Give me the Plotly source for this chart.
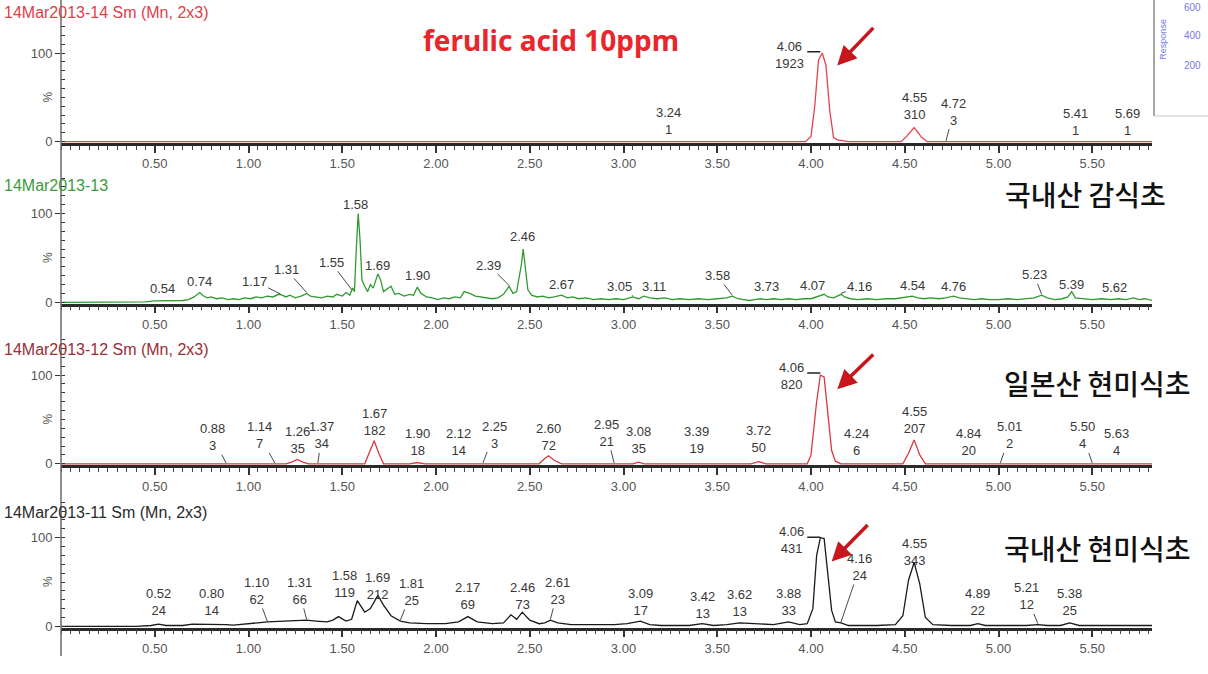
import numpy as np
import plotly.graph_objects as go

W, H = 1208, 674

# ---------------- chromatogram traces (time in min, intensity in %) ----------------
# ferulic acid standard 10 ppm
std_t = [0.00, 3.97, 4.00, 4.02, 4.04, 4.06, 4.08, 4.10, 4.12, 4.14, 4.20,
         4.48, 4.51, 4.55, 4.59, 4.62, 5.82]
std_i = [0, 0, 6, 40, 92, 100, 86, 35, 5, 2, 0,
         0, 6, 16, 5, 0, 0]

# 국내산 감식초 (persimmon vinegar)
gam_t = [0.00, 0.40, 0.45, 0.50, 0.55, 0.60, 0.65, 0.68, 0.71, 0.74, 0.76, 0.78,
         0.80, 0.83, 0.86, 0.89, 0.92, 0.95, 0.98, 1.01, 1.04, 1.07, 1.10, 1.13,
         1.16, 1.18, 1.20, 1.22, 1.25, 1.28, 1.31, 1.33, 1.36, 1.39, 1.42, 1.45,
         1.47, 1.50, 1.52, 1.54, 1.555, 1.565, 1.575, 1.585, 1.595, 1.605, 1.62,
         1.635, 1.65, 1.665, 1.69, 1.705, 1.72, 1.74, 1.76, 1.78, 1.80, 1.83, 1.86,
         1.88, 1.90, 1.92, 1.95, 1.98, 2.01, 2.04, 2.07, 2.10, 2.13, 2.15, 2.18,
         2.21, 2.24, 2.27, 2.30, 2.33, 2.36, 2.39, 2.41, 2.43, 2.455, 2.465, 2.475,
         2.49, 2.51, 2.54, 2.57, 2.60, 2.63, 2.67, 2.70, 2.73, 2.76, 2.80, 2.84,
         2.88, 2.92, 2.96, 3.00, 3.03, 3.05, 3.08, 3.11, 3.14, 3.18, 3.22, 3.26,
         3.30, 3.35, 3.40, 3.45, 3.50, 3.55, 3.58, 3.61, 3.64, 3.67, 3.70, 3.73,
         3.76, 3.80, 3.84, 3.88, 3.92, 3.96, 4.00, 4.03, 4.05, 4.07, 4.09, 4.12,
         4.14, 4.16, 4.18, 4.21, 4.25, 4.30, 4.35, 4.40, 4.45, 4.48, 4.51, 4.54,
         4.57, 4.60, 4.64, 4.68, 4.72, 4.76, 4.79, 4.83, 4.87, 4.91, 4.95, 5.00,
         5.05, 5.10, 5.15, 5.19, 5.23, 5.26, 5.30, 5.34, 5.37, 5.39, 5.41, 5.45,
         5.50, 5.55, 5.60, 5.64, 5.68, 5.72, 5.75, 5.78, 5.82]
gam_i = [0, 0, 0.5, 1.5, 1.5, 2, 2, 3, 6, 11, 7, 5,
         6, 4, 5, 3, 4, 3, 5, 4, 6, 5, 7, 6,
         9, 8, 6, 8, 5, 7, 10, 7, 6, 5, 7, 6,
         9, 7, 11, 8, 16, 12, 60, 100, 70, 25, 18,
         12, 20, 16, 32, 25, 12, 15, 18, 9, 10, 7, 9,
         8, 17, 10, 6, 5, 3, 5, 4, 6, 5, 12, 10,
         7, 6, 5, 4, 5, 9, 18, 10, 12, 42, 60, 40,
         14, 8, 6, 7, 5, 6, 8, 5, 6, 4, 5, 3,
         4, 3, 4, 3, 5, 6, 4, 7, 5, 4, 5, 3,
         4, 3, 4, 3, 4, 5, 7, 4, 3, 2, 3, 4,
         3, 4, 3, 4, 3, 4, 4, 6, 8, 9, 6, 5,
         7, 9, 6, 4, 3, 4, 3, 4, 4, 5, 6, 7,
         5, 4, 5, 4, 5, 7, 5, 4, 3, 4, 3, 3,
         4, 3, 4, 5, 8, 5, 3, 4, 6, 12, 5, 4,
         3, 4, 3, 4, 3, 5, 3, 4, 2]

# 일본산 현미식초 (Japanese brown-rice vinegar)
jp_t = [0.00, 1.20, 1.23, 1.26, 1.29, 1.32, 1.62, 1.645, 1.67, 1.695, 1.72,
        1.86, 1.90, 1.94, 2.55, 2.58, 2.60, 2.63, 2.67, 3.05, 3.08, 3.11,
        3.68, 3.72, 3.76, 3.98, 4.00, 4.03, 4.05, 4.07, 4.09, 4.11, 4.13, 4.16,
        4.49, 4.52, 4.55, 4.58, 4.61, 5.82]
jp_i = [0, 0, 2, 5, 2, 0, 0, 14, 26, 12, 0,
        0, 1.5, 0, 0, 6, 9, 4, 0, 0, 2, 0,
        0, 2.5, 0, 0, 10, 70, 100, 98, 60, 15, 3, 0,
        0, 12, 27, 10, 0, 0]

# 국내산 현미식초 (Korean brown-rice vinegar)
kr_t = [0.00, 0.40, 0.48, 0.52, 0.56, 0.65, 0.70, 0.80, 0.88, 0.92, 0.98, 1.05,
        1.10, 1.18, 1.25, 1.31, 1.36, 1.42, 1.45, 1.48, 1.52, 1.55, 1.58, 1.62,
        1.65, 1.69, 1.72, 1.76, 1.81, 1.86, 1.95, 2.05, 2.12, 2.17, 2.22, 2.30,
        2.36, 2.40, 2.43, 2.46, 2.50, 2.55, 2.58, 2.61, 2.65, 2.72, 2.80, 2.85,
        2.95, 3.02, 3.09, 3.14, 3.20, 3.35, 3.42, 3.48, 3.55, 3.62, 3.68, 3.72,
        3.80, 3.88, 3.94, 3.98, 4.01, 4.03, 4.05, 4.07, 4.09, 4.11, 4.13, 4.16,
        4.20, 4.35, 4.45, 4.49, 4.52, 4.55, 4.58, 4.61, 4.65, 4.75, 4.85, 4.89,
        4.93, 5.05, 5.15, 5.21, 5.26, 5.33, 5.38, 5.43, 5.50, 5.60, 5.82]
kr_i = [0, 0, 1, 2.5, 1, 1, 2.5, 2.5, 2, 1.5, 3, 4,
        5, 5.5, 6, 7, 6, 5, 7, 11, 6, 8, 29, 16,
        20, 35, 24, 12, 6, 4, 3, 3, 5, 11, 5, 3,
        4, 13, 8, 16, 7, 3, 4, 7, 4, 2, 2, 2,
        2, 3, 6, 2, 1, 1, 3, 1, 2, 4, 3.5, 3,
        2, 5, 2, 3, 20, 80, 100, 99, 55, 18, 5, 4,
        1, 1, 2, 12, 52, 72, 48, 10, 2, 1, 1, 3,
        1, 1, 1, 2, 1, 1, 4, 1, 1, 1, 1]

# ---------------- integrated peaks: retention time and area ----------------
std_rt = [3.24, 4.06, 4.55, 4.72, 5.41, 5.69]
std_area = [1, 1923, 310, 3, 1, 1]

gam_rt = [0.54, 0.74, 1.17, 1.31, 1.55, 1.58, 1.69, 1.90, 2.39, 2.46, 2.67,
          3.05, 3.11, 3.58, 3.73, 4.07, 4.16, 4.54, 4.76, 5.23, 5.39, 5.62]

jp_rt = [0.88, 1.14, 1.26, 1.37, 1.67, 1.90, 2.12, 2.25, 2.60, 2.95, 3.08,
         3.39, 3.72, 4.06, 4.24, 4.55, 4.84, 5.01, 5.50, 5.63]
jp_area = [3, 7, 35, 34, 182, 18, 14, 3, 72, 21, 35,
           19, 50, 820, 6, 207, 20, 2, 4, 4]

kr_rt = [0.52, 0.80, 1.10, 1.31, 1.58, 1.69, 1.81, 2.17, 2.46, 2.61, 3.09,
         3.42, 3.62, 3.88, 4.06, 4.16, 4.55, 4.89, 5.21, 5.38]
kr_area = [24, 14, 62, 66, 119, 212, 25, 69, 73, 23, 17,
           13, 13, 33, 431, 24, 343, 22, 12, 25]

x_ticks = [0.5, 1.0, 1.5, 2.0, 2.5, 3.0, 3.5, 4.0, 4.5, 5.0, 5.5]

# ---------------- label placement (x offset, label height, leader flag) ----------------
std_lab = [(0, 23, 0), (None, 98, 0), (0, 40, 0), (0.04, 34, 1), (0, 22, 0), (0, 22, 0)]
gam_lab = [(0, 15, 0), (0, 24, 0), (-0.14, 24, 1), (-0.11, 37, 1), (-0.11, 45, 1),
           (-0.01, 110, 0), (0, 41, 0), (0, 30, 0), (-0.11, 42, 1), (0, 74, 0),
           (0, 20, 0), (-0.07, 18, 1), (0.05, 18, 0), (-0.08, 30, 1), (0.03, 18, 0),
           (-0.06, 19, 0), (0.1, 18, 1), (0, 19, 0), (0, 18, 0), (-0.04, 31, 1),
           (0, 20, 0), (0, 17, 0)]
jp_lab = [(-0.07, 30, 1), (-0.08, 32, 1), (0, 27, 0), (0.02, 32, 1), (0, 47, 0),
          (0, 25, 0), (0, 25, 0), (0.06, 33, 1), (0, 30, 0), (-0.04, 35, 1),
          (0, 27, 0), (0, 27, 0), (0, 28, 0), (None, 99, 0), (0, 25, 0),
          (0, 49, 0), (0, 25, 0), (0.05, 32, 1), (-0.05, 32, 1), (0, 25, 0)]
kr_lab = [(0, 28, 0), (0, 28, 0), (-0.06, 40, 1), (-0.04, 40, 1), (-0.07, 48, 1),
          (0, 45, 0), (0.06, 39, 1), (0, 34, 0), (0, 34, 0), (0.04, 40, 1),
          (0, 28, 0), (0, 24, 0), (0, 26, 0), (0, 28, 0), (None, 97, 0),
          (0.1, 67, 1), (0, 84, 0), (0, 27, 0), (-0.06, 34, 1), (0, 28, 0)]

# ---------------- geometry helpers ----------------
X0_PX, X1_PX = 61.0, 1152.0
PX_PER_MIN = 187.5
PX_PER_PCT = 0.895
Y_LO, Y_HI = -1.5, 140.0
BASE_PX = [143, 305, 468, 632]


def px_x(px):
    return px / W


def px_y(py):
    return 1 - py / H


def y_domain(base):
    return [px_y(base - Y_LO * PX_PER_PCT), px_y(base - Y_HI * PX_PER_PCT)]


def paper_text(xp, yp, text, font, **kw):
    d = dict(x=px_x(xp), y=px_y(yp), xref="paper", yref="paper", text=text,
             showarrow=False, xanchor="center", yanchor="middle", font=font)
    d.update(kw)
    return d


x_range = [0, (X1_PX - X0_PX) / PX_PER_MIN]

panels = [
    dict(t=std_t, i=std_i, color="#e5434a", rt=std_rt, area=std_area, lab=std_lab),
    dict(t=gam_t, i=gam_i, color="#2f9b2f", rt=gam_rt, area=None, lab=gam_lab),
    dict(t=jp_t, i=jp_i, color="#d8393f", rt=jp_rt, area=jp_area, lab=jp_lab),
    dict(t=kr_t, i=kr_i, color="#1a1a1a", rt=kr_rt, area=kr_area, lab=kr_lab),
]
titles = ["14Mar2013-14 Sm (Mn, 2x3)", "14Mar2013-13",
          "14Mar2013-12 Sm (Mn, 2x3)", "14Mar2013-11 Sm (Mn, 2x3)"]
title_colors = ["#e0404a", "#3d9a3d", "#9a2d35", "#2a2a2a"]
title_px = [13, 187, 353, 517]

fig = go.Figure()
annotations = []
shapes = []
SANS = "Liberation Sans, Arial, sans-serif"
LAB_FONT = dict(family=SANS, size=13, color="#383838")

for k, p in enumerate(panels):
    n = "" if k == 0 else str(k + 1)
    xa, ya = "x" + n, "y" + n
    fig.add_trace(go.Scatter(x=p["t"], y=p["i"], mode="lines", xaxis=xa, yaxis=ya,
                             line=dict(color=p["color"], width=1.3),
                             showlegend=False, hoverinfo="skip"))
    fig.layout["xaxis" + n] = dict(
        domain=[px_x(X0_PX), px_x(X1_PX)], range=x_range, anchor=ya,
        tickvals=x_ticks, ticktext=[f"{v:.2f}" for v in x_ticks],
        ticks="outside", ticklen=7, tickwidth=1.5, tickcolor="#333",
        minor=dict(dtick=0.05, ticks="outside", ticklen=4, tickcolor="#444", tickwidth=1),
        showline=True, linecolor="#2a2a2a", linewidth=2.5, showgrid=False, zeroline=False,
        tickfont=dict(family=SANS, size=13, color="#555"), fixedrange=True)
    fig.layout["yaxis" + n] = dict(
        domain=y_domain(BASE_PX[k]), range=[Y_LO, Y_HI], anchor=xa,
        tickvals=[0, 100], ticktext=["0", "100"], ticks="outside", ticklen=5,
        tickcolor="#333", minor=dict(dtick=10, ticks="inside", ticklen=4, tickcolor="#333"),
        showline=False, showgrid=False, zeroline=False,
        tickfont=dict(family=SANS, size=13, color="#555"), fixedrange=True)
    # "%" axis caption
    annotations.append(paper_text(48, BASE_PX[k] - 50 * PX_PER_PCT, "%",
                                  dict(size=12, color="#555", family=SANS), textangle=-90))
    # panel title
    annotations.append(paper_text(2, title_px[k], titles[k],
                                  dict(family=SANS, size=16, color=title_colors[k]),
                                  xanchor="left"))
    # peak labels
    for j, rt in enumerate(p["rt"]):
        dx, ly, leader = p["lab"][j]
        txt = f"{rt:.2f}" if p["area"] is None else f"{rt:.2f}<br>{p['area'][j]}"
        if dx is None:
            # main peak: label to the left with a short bracket to the apex
            annotations.append(dict(x=rt - 0.085, y=ly, xref=xa, yref=ya, text=txt,
                                    xanchor="right", yanchor="middle", showarrow=False,
                                    font=LAB_FONT, align="center"))
            shapes.append(dict(type="line", xref=xa, yref=ya, x0=rt - 0.08, x1=rt - 0.01,
                               y0=ly + 3.5, y1=ly + 3.5, line=dict(color="#222", width=1.5)))
            continue
        if leader:
            h = float(np.interp(rt, p["t"], p["i"]))
            annotations.append(dict(x=rt, y=h + 1, xref=xa, yref=ya, ax=rt + dx, ay=ly,
                                    axref=xa, ayref=ya, text=txt, showarrow=True,
                                    arrowhead=0, arrowwidth=0.9, arrowcolor="#333",
                                    standoff=0, font=LAB_FONT, align="center"))
        else:
            annotations.append(dict(x=rt + dx, y=ly, xref=xa, yref=ya, text=txt,
                                    xanchor="center", yanchor="middle",
                                    showarrow=False, font=LAB_FONT, align="center"))

# red arrows pointing at the ferulic acid peak (head x, head y, tail x, tail y)
arrow_panels = [(0, 4.14, 86, 4.34, 130), (2, 4.14, 84, 4.34, 125), (3, 4.11, 73, 4.31, 116)]
for k, hx, hy, tx, ty in arrow_panels:
    n = "" if k == 0 else str(k + 1)
    annotations.append(dict(x=hx, y=hy, ax=tx, ay=ty, xref="x" + n, yref="y" + n,
                            axref="x" + n, ayref="y" + n, text="", showarrow=True,
                            arrowhead=2, arrowsize=1.1, arrowwidth=3.5, arrowcolor="#c8161d"))

# sample names
KOR = dict(family="Noto Sans CJK KR", size=28, color="#111", weight=500)
annotations += [
    paper_text(551, 40, "<b>ferulic acid 10ppm</b>",
               dict(family="Noto Sans, Liberation Sans", size=28, color="#e8262b")),
    paper_text(1085, 196, "국내산 감식초", KOR),
    paper_text(1097, 386, "일본산 현미식초", KOR),
    paper_text(1097, 553, "국내산 현미식초", KOR),
]

# partial response window at the top right
blue = "#7878e6"
shapes += [
    dict(type="line", xref="paper", yref="paper", x0=px_x(1154), x1=px_x(1154),
         y0=px_y(0), y1=px_y(117), line=dict(color="#8a8a8a", width=1.5)),
    dict(type="line", xref="paper", yref="paper", x0=px_x(1154), x1=px_x(1208),
         y0=px_y(117), y1=px_y(117), line=dict(color="#c8c8c8", width=1)),
]
BLUE_FONT = dict(family=SANS, size=10, color=blue)
annotations += [
    paper_text(1163, 40, "Response", dict(family=SANS, size=9, color=blue), textangle=-90),
    paper_text(1192, 8, "600", BLUE_FONT),
    paper_text(1192, 36, "400", BLUE_FONT),
    paper_text(1192, 66, "200", BLUE_FONT),
]

# long vertical axis line shared by all panels
shapes.append(dict(type="line", xref="paper", yref="paper", x0=px_x(X0_PX), x1=px_x(X0_PX),
                   y0=px_y(0), y1=px_y(662), line=dict(color="#6a6a6a", width=1.5)))

fig.update_layout(width=W, height=H, margin=dict(l=0, r=0, t=0, b=0),
                  paper_bgcolor="white", plot_bgcolor="white",
                  annotations=annotations, shapes=shapes, showlegend=False)

fig.write_html("out.html")
